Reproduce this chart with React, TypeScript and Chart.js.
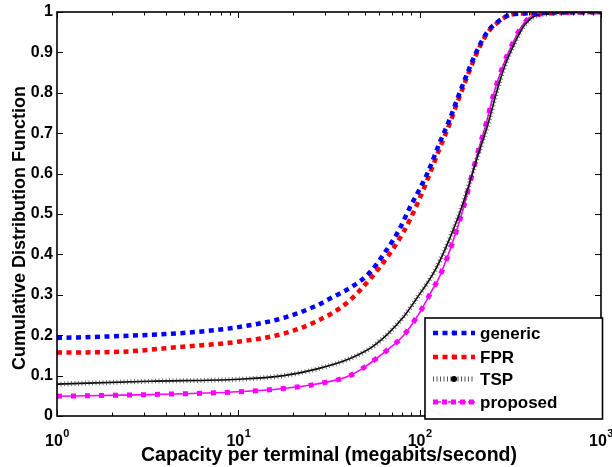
import React, { useEffect, useRef } from 'react';
import { Chart, registerables } from 'chart.js';
Chart.register(...registerables);

// ---- data ----
const genericX = [1, 2.24, 4.79, 10, 17.8, 26.9, 33.1, 42.7, 52.5, 65.5, 77.5, 88, 100, 110.9, 128.8, 146, 162, 180, 204, 233, 263, 331, 1000];
const genericY = [0.193, 0.198, 0.205, 0.22, 0.243, 0.273, 0.294, 0.321, 0.353, 0.41, 0.463, 0.515, 0.562, 0.603, 0.676, 0.733, 0.787, 0.84, 0.898, 0.947, 0.972, 0.995, 1];

const fprX = [1, 2.24, 4.79, 10, 17.8, 26.9, 39.5, 53, 65.5, 81, 97.7, 118, 128.8, 146, 162, 180, 204, 233, 263, 331, 1000];
const fprY = [0.157, 0.159, 0.171, 0.184, 0.204, 0.234, 0.279, 0.338, 0.39, 0.4535, 0.528, 0.618, 0.662, 0.722, 0.778, 0.832, 0.893, 0.944, 0.97, 0.995, 1];

const tspX = [1, 3.24, 10, 17.8, 26.9, 40.7, 56, 81, 95.5, 123, 151, 173, 209, 239, 265, 294, 334, 379, 457, 1000];
const tspY = [0.079, 0.086, 0.091, 0.1, 0.116, 0.141, 0.174, 0.244, 0.289, 0.365, 0.454, 0.525, 0.643, 0.725, 0.8, 0.865, 0.923, 0.968, 0.993, 1];

const proposedX = [1, 3.24, 10, 17.7, 27, 41, 50.8, 60.3, 71, 81, 100, 118, 129, 158.5, 176.6, 206.5, 232.8, 257, 287, 326, 370, 436.5, 1000];
const proposedY = [0.049, 0.053, 0.06, 0.068, 0.079, 0.0995, 0.124, 0.149, 0.174, 0.198, 0.256, 0.314, 0.346, 0.454, 0.524, 0.643, 0.725, 0.8, 0.865, 0.923, 0.968, 0.993, 1];

const seriesNames = ['generic', 'FPR', 'TSP', 'proposed'];

const xTickValues = [1, 10, 100, 1000];
const xTickBase = ['10', '10', '10', '10'];
const xTickExp = ['0', '1', '2', '3'];
const yTickValues = [0, 0.1, 0.2, 0.3, 0.4, 0.5, 0.6, 0.7, 0.8, 0.9, 1];
const yTickLabels = ['0', '0.1', '0.2', '0.3', '0.4', '0.5', '0.6', '0.7', '0.8', '0.9', '1'];

const xTitle = 'Capacity per terminal (megabits/second)';
const yTitle = 'Cumulative Distribution Function';

const FONT = "'Liberation Sans', Arial, Helvetica, sans-serif";
const BLUE = '#0000ff';
const RED = '#ff0000';
const MAGENTA = '#ff00ff';

const pts = (xs: number[], ys: number[]) => xs.map((x, i) => ({ x, y: ys[i] }));

const framePlugin = {
  id: 'matlabFrame',
  afterDraw(chart: any) {
    const { ctx, chartArea: a, scales } = chart;
    ctx.save();
    ctx.strokeStyle = '#000';
    ctx.lineWidth = 1;
    const seg = (x1: number, y1: number, x2: number, y2: number) => {
      ctx.beginPath();
      ctx.moveTo(x1, y1);
      ctx.lineTo(x2, y2);
      ctx.stroke();
    };
    for (const v of yTickValues) {
      const py = Math.round(scales.y.getPixelForValue(v)) + 0.5;
      seg(a.left, py, a.left + 6, py);
      seg(a.right, py, a.right - 6, py);
    }
    for (let d = 0; d < xTickValues.length; d++) {
      const base = xTickValues[d];
      const px = Math.round(scales.x.getPixelForValue(base)) + 0.5;
      seg(px, a.bottom, px, a.bottom - 6);
      seg(px, a.top, px, a.top + 6);
      if (d < xTickValues.length - 1) {
        for (let m = 2; m <= 9; m++) {
          const mx = Math.round(scales.x.getPixelForValue(base * m)) + 0.5;
          seg(mx, a.bottom, mx, a.bottom - 3.5);
          seg(mx, a.top, mx, a.top + 3.5);
        }
      }
    }
    ctx.lineWidth = 1.6;
    ctx.strokeRect(a.left, a.top, a.right - a.left, a.bottom - a.top);

    // x tick labels with superscript exponents
    ctx.fillStyle = '#000';
    ctx.textBaseline = 'alphabetic';
    for (let d = 0; d < xTickValues.length; d++) {
      const px = scales.x.getPixelForValue(xTickValues[d]);
      ctx.font = `bold 16px ${FONT}`;
      const bw = ctx.measureText(xTickBase[d]).width;
      ctx.font = `bold 11px ${FONT}`;
      const ew = ctx.measureText(xTickExp[d]).width;
      const x0 = px - (bw + ew) / 2;
      ctx.font = `bold 16px ${FONT}`;
      ctx.textAlign = 'left';
      ctx.fillText(xTickBase[d], x0, a.bottom + 30);
      ctx.font = `bold 11px ${FONT}`;
      ctx.fillText(xTickExp[d], x0 + bw + 0.5, a.bottom + 21);
    }

    // axis titles
    ctx.font = `bold 19.5px ${FONT}`;
    ctx.textAlign = 'center';
    ctx.textBaseline = 'alphabetic';
    ctx.fillText(xTitle, (a.left + a.right) / 2, a.bottom + 45);
    ctx.save();
    ctx.translate(25, 228);
    ctx.rotate(-Math.PI / 2);
    ctx.font = `bold 18px ${FONT}`;
    ctx.fillText(yTitle, 0, 0);
    ctx.restore();

    // legend
    const lx = 425;
    const ly = 318;
    const w = a.right + 1.5 - lx;
    const h = a.bottom + 3 - ly;
    ctx.fillStyle = '#fff';
    ctx.fillRect(lx, ly, w, h);
    ctx.lineWidth = 1.6;
    ctx.strokeStyle = '#000';
    ctx.strokeRect(lx, ly, w, h);
    const rows = [15, 39, 61, 84];
    const sx1 = lx + 8;
    const sx2 = lx + 50;
    const mid = (sx1 + sx2) / 2;
    ctx.font = `bold 17px ${FONT}`;
    ctx.textBaseline = 'middle';
    ctx.textAlign = 'left';
    rows.forEach((ry, i) => {
      const y = ly + ry;
      ctx.save();
      ctx.lineCap = 'butt';
      if (i < 2) {
        ctx.strokeStyle = i === 0 ? BLUE : RED;
        ctx.fillStyle = i === 0 ? BLUE : RED;
        ctx.lineWidth = 4.5;
        ctx.setLineDash([5, 4.5]);
        seg(sx1, y, sx2, y);
        ctx.setLineDash([]);
        ctx.beginPath();
        ctx.arc(mid, y, 2.5, 0, Math.PI * 2);
        ctx.fill();
      } else if (i === 2) {
        ctx.strokeStyle = '#555';
        ctx.lineWidth = 5;
        ctx.setLineDash([1, 2.5]);
        seg(sx1, y, sx2, y);
        ctx.setLineDash([]);
        ctx.fillStyle = '#000';
        ctx.beginPath();
        ctx.arc(mid, y, 3, 0, Math.PI * 2);
        ctx.fill();
      } else {
        ctx.strokeStyle = MAGENTA;
        ctx.lineWidth = 1.5;
        ctx.setLineDash([3, 2]);
        seg(sx1, y, sx2, y);
        ctx.setLineDash([5, 4]);
        ctx.lineWidth = 5;
        seg(sx1, y, sx2, y);
      }
      ctx.restore();
      ctx.fillStyle = '#000';
      ctx.fillText(seriesNames[i], lx + 55, y + 1);
    });
    ctx.restore();
  },
};

export default function App() {
  const canvasRef = useRef<HTMLCanvasElement | null>(null);

  useEffect(() => {
    document.body.style.margin = '0';
    const canvas = canvasRef.current;
    if (!canvas) return;
    const common = { pointRadius: 0, fill: false, cubicInterpolationMode: 'monotone' as const, borderCapStyle: 'butt' as const };
    const chart = new Chart(canvas, {
      type: 'line',
      data: {
        datasets: [
          { ...common, label: seriesNames[0], data: pts(genericX, genericY), borderColor: BLUE, borderWidth: 4.5, borderDash: [5, 4.5] },
          { ...common, label: seriesNames[1], data: pts(fprX, fprY), borderColor: RED, borderWidth: 4.5, borderDash: [5, 4.5] },
          { ...common, label: seriesNames[2], data: pts(tspX, tspY), borderColor: 'rgba(60,60,60,0.7)', borderWidth: 5, borderDash: [1, 2.5] },
          { ...common, label: seriesNames[2], data: pts(tspX, tspY), borderColor: '#000', borderWidth: 1.6 },
          { ...common, label: seriesNames[3], data: pts(proposedX, proposedY), borderColor: MAGENTA, borderWidth: 1.6 },
          { ...common, label: seriesNames[3], data: pts(proposedX, proposedY), borderColor: MAGENTA, borderWidth: 5, borderDash: [5, 9] },
        ],
      },
      options: {
        animation: false,
        responsive: true,
        maintainAspectRatio: false,
        layout: { padding: { top: 12, right: 11, left: 0, bottom: 0 } },
        plugins: { legend: { display: false }, tooltip: { enabled: false } },
        scales: {
          x: {
            type: 'logarithmic',
            min: 1,
            max: 1000,
            grid: { display: false, drawTicks: false },
            border: { display: false },
            afterBuildTicks: (s: any) => {
              s.ticks = xTickValues.map((v) => ({ value: v }));
            },
            afterFit: (s: any) => {
              s.height = 51;
              s.paddingLeft = 0;
              s.paddingRight = 0;
            },
            ticks: { display: false },
            title: { display: false },
          },
          y: {
            type: 'linear',
            min: 0,
            max: 1,
            grid: { display: false, drawTicks: false },
            border: { display: false },
            afterBuildTicks: (s: any) => {
              s.ticks = yTickValues.map((v) => ({ value: v }));
            },
            afterFit: (s: any) => {
              s.width = 57;
              s.paddingTop = 0;
              s.paddingBottom = 0;
            },
            ticks: {
              autoSkip: false,
              padding: 4,
              color: '#000',
              font: { family: FONT, size: 16, weight: 'bold' },
              callback: (_v: any, i: number) => yTickLabels[i],
            },
            title: { display: false },
          },
        },
      },
      plugins: [framePlugin],
    } as any);
    return () => chart.destroy();
  }, []);

  return (
    <div style={{ position: 'relative', width: 612, height: 467 }}>
      <canvas ref={canvasRef} />
    </div>
  );
}
